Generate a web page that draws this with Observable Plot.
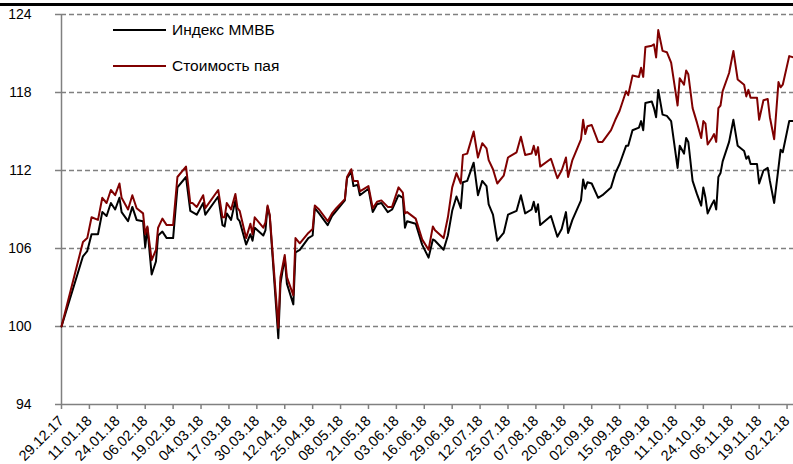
<!DOCTYPE html>
<html>
<head>
<meta charset="utf-8">
<script src="https://cdn.jsdelivr.net/npm/d3@7"></script>
<script src="https://cdn.jsdelivr.net/npm/@observablehq/plot@0.6"></script>
<style>
  body { margin: 0; background: #fff; font-family: "Liberation Sans", Arial, sans-serif; }
  #wrap { position: relative; width: 793px; height: 464px; overflow: hidden; background: #fff; }
  #topline { position: absolute; left: 0; top: 3px; width: 793px; height: 2.5px; background: #000; }
  .lg-line { position: absolute; left: 113px; width: 53px; height: 2px; }
  .lg-text { position: absolute; left: 172px; font-size: 15.5px; line-height: 18px; color: #000; white-space: nowrap; }
</style>
</head>
<body>
<div id="wrap"><div id="topline"></div></div>
<script>
// ---- data ----
const dates = [
"2017-12-29","2018-01-08","2018-01-10","2018-01-12","2018-01-15","2018-01-17","2018-01-19","2018-01-21","2018-01-23","2018-01-25",
"2018-01-26","2018-01-29","2018-01-31","2018-02-02","2018-02-05","2018-02-06","2018-02-07","2018-02-09","2018-02-11","2018-02-12",
"2018-02-14","2018-02-16","2018-02-19","2018-02-21","2018-02-25","2018-02-27","2018-02-28","2018-03-02","2018-03-05","2018-03-06",
"2018-03-12","2018-03-14","2018-03-15","2018-03-16","2018-03-18","2018-03-20","2018-03-21","2018-03-22","2018-03-25","2018-03-27",
"2018-03-28","2018-03-29","2018-04-02","2018-04-03","2018-04-04","2018-04-05","2018-04-09","2018-04-10","2018-04-12","2018-04-13",
"2018-04-16","2018-04-17","2018-04-19","2018-04-23","2018-04-25","2018-04-26","2018-04-28","2018-05-02","2018-05-04","2018-05-06",
"2018-05-10","2018-05-11","2018-05-13","2018-05-14","2018-05-16","2018-05-17","2018-05-21","2018-05-23","2018-05-25","2018-05-27",
"2018-05-30","2018-06-01","2018-06-04","2018-06-06","2018-06-07","2018-06-08","2018-06-12","2018-06-15","2018-06-18","2018-06-20",
"2018-06-21","2018-06-25","2018-06-27","2018-06-29","2018-07-01","2018-07-03","2018-07-04","2018-07-06","2018-07-09","2018-07-11",
"2018-07-13","2018-07-15","2018-07-16","2018-07-18","2018-07-20","2018-07-23","2018-07-25","2018-07-29","2018-07-31","2018-08-02",
"2018-08-05","2018-08-06","2018-08-07","2018-08-08","2018-08-09","2018-08-14","2018-08-17","2018-08-19","2018-08-21","2018-08-22",
"2018-08-24","2018-08-28","2018-08-29","2018-08-30","2018-08-31","2018-09-02","2018-09-05","2018-09-07","2018-09-11","2018-09-13",
"2018-09-15","2018-09-18","2018-09-19","2018-09-21","2018-09-24","2018-09-25","2018-09-26","2018-09-27","2018-09-30","2018-10-01",
"2018-10-02","2018-10-03","2018-10-05","2018-10-07","2018-10-09","2018-10-12","2018-10-13","2018-10-15","2018-10-16","2018-10-17",
"2018-10-19","2018-10-21","2018-10-23","2018-10-24","2018-10-25","2018-10-26","2018-10-28","2018-10-29","2018-10-30","2018-10-31",
"2018-11-01","2018-11-02","2018-11-05","2018-11-07","2018-11-09","2018-11-12","2018-11-13","2018-11-14","2018-11-15","2018-11-18",
"2018-11-19","2018-11-21","2018-11-23","2018-11-24","2018-11-26","2018-11-28","2018-11-29","2018-11-30","2018-12-03","2018-12-05"
];
const mmvb = [
100,105.4,105.8,107.1,107.1,108.8,108.5,109.5,109.0,109.9,
108.8,108.1,109.2,108.2,108.1,106.1,107.6,104.0,105.0,107.0,
107.3,106.8,106.8,110.7,111.5,108.9,108.8,108.6,109.5,108.6,
110.0,107.8,107.7,108.7,108.2,109.7,108.3,108.1,106.3,107.1,
106.6,107.6,107.0,107.4,109.2,108.5,99.1,103.3,105.3,103.3,
101.7,105.7,105.9,106.8,107.0,109.1,108.7,107.8,108.5,108.9,
109.7,111.4,111.9,110.8,110.9,110.1,110.6,108.8,109.4,109.5,
108.8,109.0,110.1,109.9,107.6,108.1,107.9,106.3,105.3,106.7,
106.6,105.9,107.0,108.9,110.0,109.1,111.1,111.2,112.6,110.1,
111.2,110.8,109.4,108.6,106.6,107.2,108.6,108.9,110.1,108.7,
109.0,109.6,108.8,109.4,107.8,108.5,106.9,107.5,108.8,107.2,
108.2,109.7,111.3,110.6,111.1,111.0,109.9,110.1,110.7,111.8,
112.5,113.9,113.9,115.1,115.3,115.8,115.1,117.2,117.3,116.8,
116.1,118.2,116.3,116.2,115.8,112.2,113.9,113.3,114.5,114.2,
111.2,110.2,109.3,110.7,109.9,108.7,109.4,109.7,109.0,111.5,
111.8,112.7,114.2,115.9,113.9,113.5,112.9,113.1,112.5,112.5,
111.0,112.0,112.2,111.2,109.5,112.2,113.6,113.4,115.8,115.8
];
const pai = [
100,106.5,106.8,108.4,108.2,109.9,109.5,110.5,110.1,111.0,
109.9,109.0,110.1,109.1,108.7,107.1,107.7,105.1,105.9,107.6,
108.3,107.8,107.8,111.5,112.3,109.5,109.5,109.2,110.1,109.1,
110.5,108.4,108.4,109.5,109.0,110.2,109.1,108.9,106.8,107.9,
107.1,108.4,107.6,108.0,109.3,108.6,99.9,103.8,105.5,103.8,
102.4,106.8,106.4,107.2,107.5,109.3,109.0,108.1,108.7,109.1,
109.8,111.5,112.1,111.2,111.2,110.4,110.8,109.1,109.6,109.7,
109.2,109.2,110.7,110.3,108.7,108.8,108.3,106.7,105.9,107.7,
107.4,106.8,108.4,110.7,111.8,111.0,113.2,113.3,115.0,113.0,
114.1,113.7,112.8,112.1,111.0,111.6,113.0,113.4,114.6,113.2,
113.3,113.9,113.2,113.8,112.3,112.9,111.4,112.0,113.0,111.5,
112.8,114.4,115.9,114.8,115.4,115.5,114.2,114.2,115.1,115.9,
116.6,118.1,117.8,119.3,119.2,119.9,119.2,121.5,121.6,121.7,
120.7,122.8,121.2,121.1,120.3,117.0,119.1,118.6,119.7,119.4,
116.8,115.7,114.5,115.8,115.6,114.0,114.5,114.8,114.2,116.8,
117.0,118.1,119.5,121.2,119.0,118.6,117.7,118.2,117.6,117.6,
115.9,117.4,117.5,116.1,114.4,118.8,118.4,118.6,120.8,120.7
];
const seriesNames = ["Индекс ММВБ", "Стоимость пая"];
const seriesColors = ["#000000", "#800000"];
const yTicks = [94, 100, 106, 112, 118, 124];
const xTickLabels = ["29.12.17","11.01.18","24.01.18","06.02.18","19.02.18","04.03.18","17.03.18","30.03.18","12.04.18",
  "25.04.18","08.05.18","21.05.18","03.06.18","16.06.18","29.06.18","12.07.18","25.07.18","07.08.18","20.08.18",
  "02.09.18","15.09.18","28.09.18","11.10.18","24.10.18","06.11.18","19.11.18","02.12.18"];
const xDomain = ["2017-12-29", "2018-12-05"];

// ---- build ----
const parseD = d3.utcParse("%Y-%m-%d");
const parseT = d3.utcParse("%d.%m.%y");
const fmtT = d3.utcFormat("%d.%m.%y");
const D = dates.map(parseD);
const tickDates = xTickLabels.map(parseT);
const idx = d3.range(D.length);
const gray = "#808080";

const chart = Plot.plot({
  width: 793,
  height: 464,
  marginLeft: 61,
  marginRight: 0,
  marginTop: 14,
  marginBottom: 60,
  style: { fontFamily: "'Liberation Sans', Arial, sans-serif", background: "transparent", color: "#000" },
  x: { type: "utc", domain: xDomain.map(parseD) },
  y: { domain: [94, 124] },
  marks: [
    Plot.gridY(yTicks.filter(v => v > 94), { stroke: gray, strokeOpacity: 1, strokeWidth: 1.5, strokeDasharray: "5,3" }),
    Plot.ruleY([94], { stroke: gray, strokeWidth: 1.5 }),
    Plot.ruleX([parseD(xDomain[0])], { stroke: gray, strokeWidth: 1.5 }),
    Plot.axisY(yTicks, { tickSize: 6, tickPadding: 24, stroke: gray, strokeWidth: 1.5, fill: "#000", fontSize: 14, tickFormat: d => String(d) }),
    Plot.axisX(tickDates, { tickSize: 5, tickPadding: 9, tickRotate: -45, textAnchor: "end", lineAnchor: "middle",
      stroke: gray, strokeWidth: 1.5, fill: "#000", fontSize: 14.5, tickFormat: fmtT }),
    Plot.line(idx, { x: i => D[i], y: i => mmvb[i], stroke: seriesColors[0], strokeWidth: 2 }),
    Plot.line(idx, { x: i => D[i], y: i => pai[i], stroke: seriesColors[1], strokeWidth: 2 })
  ]
});

const wrap = document.getElementById("wrap");
wrap.insertBefore(chart, wrap.firstChild);
chart.style.position = "absolute";
chart.style.left = "0";
chart.style.top = "0";

// legend (inside the plot area, top-left)
const lgTops = [21, 57];
seriesNames.forEach((name, i) => {
  const ln = document.createElement("div");
  ln.className = "lg-line";
  ln.style.top = (lgTops[i] + 8) + "px";
  ln.style.background = seriesColors[i];
  wrap.appendChild(ln);
  const tx = document.createElement("div");
  tx.className = "lg-text";
  tx.style.top = lgTops[i] + "px";
  tx.textContent = name;
  wrap.appendChild(tx);
});
</script>
</body>
</html>
